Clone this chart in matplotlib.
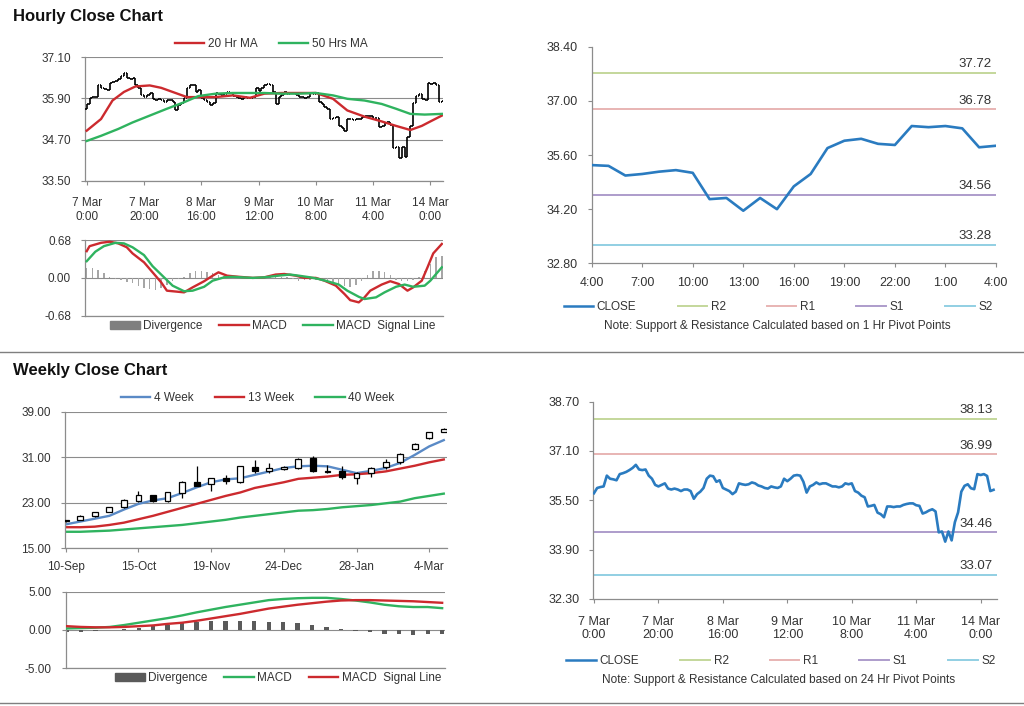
import numpy as np
import matplotlib.pyplot as plt
from matplotlib.lines import Line2D
from matplotlib.patches import Patch, Rectangle

plt.rcParams['font.family'] = ['Liberation Sans', 'DejaVu Sans']
plt.rcParams['font.size'] = 8

# ---------------- hourly data (7 Mar 0:00 -> 14 Mar 4:00) ----------------
hourly_close = [
    35.73, 35.90, 35.93, 35.95, 36.30, 36.20, 36.18, 36.15, 36.35, 36.38,
    36.42, 36.48, 36.55, 36.65, 36.50, 36.48, 36.50, 36.30, 36.20, 36.00,
    35.95, 36.00, 36.05, 35.88, 35.85, 35.88, 35.85, 35.80, 35.85, 35.85,
    35.80, 35.55, 35.70, 35.78, 35.90, 36.20, 36.30, 36.28, 36.10, 36.15,
    35.90, 35.85, 35.80, 35.70, 35.78, 36.05, 36.02, 36.00, 36.02, 36.08,
    36.05, 35.98, 35.95, 35.90, 35.88, 35.95, 35.92, 35.90, 35.95, 36.20,
    36.12, 36.20, 36.30, 36.32, 36.30, 36.10, 35.75, 35.95, 36.00, 36.08,
    36.02, 36.05, 36.05, 36.00, 35.95, 35.95, 35.92, 35.95, 36.05, 36.02,
    36.05, 35.80, 35.75, 35.65, 35.60, 35.30, 35.32, 35.35, 35.10, 35.05,
    34.95, 35.30, 35.30, 35.28, 35.30, 35.30, 35.35, 35.38, 35.40, 35.40,
    35.34, 35.32, 35.07, 35.11, 35.17, 35.21, 35.14, 34.46, 34.49, 34.16,
    34.49, 34.20, 34.79, 35.11, 35.78, 35.97, 36.02, 35.89, 35.86, 36.35,
    36.32, 36.35, 36.29, 35.80, 35.84]
first_open = 35.60
hourly_ticks = [0, 20, 40, 60, 80, 100, 120]
hourly_tick_labels = ['7 Mar\n0:00', '7 Mar\n20:00', '8 Mar\n16:00', '9 Mar\n12:00',
                      '10 Mar\n8:00', '11 Mar\n4:00', '14 Mar\n0:00']

ma20_hours = [0, 5, 9, 13, 17, 22, 26, 30, 35, 39, 45, 51, 57, 62, 68, 74, 80, 86,
              91, 97, 103, 108, 113, 117, 120, 124]
ma20 = [34.96, 35.30, 35.84, 36.09, 36.25, 36.28, 36.21, 36.09, 35.94, 35.94, 35.94,
        35.99, 35.92, 36.04, 36.06, 36.06, 36.06, 35.89, 35.55, 35.37, 35.23, 35.10,
        34.98, 35.10, 35.23, 35.40]
ma50_hours = [0, 5, 11, 16, 22, 28, 34, 39, 45, 51, 57, 62, 68, 74, 80, 86, 91, 97,
              103, 108, 113, 118, 124]
ma50 = [34.66, 34.81, 35.01, 35.20, 35.40, 35.60, 35.79, 35.97, 36.04, 36.06, 36.06,
        36.06, 36.04, 36.04, 36.06, 35.99, 35.89, 35.84, 35.74, 35.60, 35.45, 35.43, 35.45]

macd_hours = [0, 1, 5, 8, 11, 14, 16, 20, 23, 26, 28, 30, 34, 37, 41, 44, 46, 49, 53,
              58, 62, 66, 69, 73, 76, 80, 83, 87, 90, 92, 95, 97, 99, 103, 106, 109,
              112, 114, 117, 119, 121, 124]
macd_h = [0.48, 0.57, 0.63, 0.65, 0.62, 0.55, 0.44, 0.28, 0.10, -0.08, -0.23, -0.24,
          -0.26, -0.17, -0.06, 0.04, 0.10, 0.04, 0.02, 0.0, 0.01, 0.06, 0.07, 0.04, 0.0,
          0.0, -0.05, -0.14, -0.29, -0.40, -0.44, -0.35, -0.23, -0.12, -0.06, -0.11,
          -0.23, -0.17, -0.05, 0.19, 0.44, 0.61]
signal_hours = [0, 3, 6, 10, 13, 16, 20, 23, 27, 30, 34, 37, 41, 44, 48, 51, 54, 58,
                62, 67, 71, 74, 78, 81, 84, 88, 91, 95, 97, 101, 104, 108, 111, 114,
                118, 120, 124]
signal_h = [0.30, 0.47, 0.57, 0.63, 0.62, 0.55, 0.41, 0.21, 0.01, -0.14, -0.24, -0.23,
            -0.16, -0.05, 0.01, 0.02, 0.01, 0.0, 0.01, 0.04, 0.06, 0.04, 0.01, -0.02,
            -0.06, -0.12, -0.23, -0.34, -0.38, -0.35, -0.26, -0.16, -0.12, -0.16, -0.14,
            -0.05, 0.19]
div_h = [0.18, 0.18, 0.15, 0.08, 0.02, -0.02, -0.04, -0.07, -0.10, -0.14, -0.18, -0.20,
         -0.21, -0.18, -0.12, -0.05, -0.02, 0.02, 0.08, 0.12, 0.12, 0.11, 0.09, 0.06,
         0.03, 0.02, 0.01, 0.01, 0.0, -0.01, 0.0, 0.01, 0.02, 0.03, 0.02, 0.01, -0.02,
         -0.05, -0.03, -0.03, -0.04, -0.05, -0.07, -0.10, -0.13, -0.15, -0.17, -0.12,
         -0.05, 0.05, 0.12, 0.13, 0.11, 0.06, -0.03, -0.06, -0.06, -0.04, 0.02, 0.12,
         0.25, 0.38, 0.40]

# pivot levels
pivot_1h = {'R2': 37.72, 'R1': 36.78, 'S1': 34.56, 'S2': 33.28}
pivot_24h = {'R2': 38.13, 'R1': 36.99, 'S1': 34.46, 'S2': 33.07}
last24_labels = ['4:00', '7:00', '10:00', '13:00', '16:00', '19:00', '22:00', '1:00', '4:00']

# ---------------- weekly data ----------------
week_labels = ['10-Sep', '15-Oct', '19-Nov', '24-Dec', '28-Jan', '4-Mar']
wk_open = [19.9, 20.0, 20.6, 21.4, 22.2, 23.3, 24.3, 23.3, 24.7, 26.7, 26.3, 27.3, 26.6,
           29.3, 28.5, 29.0, 29.1, 30.9, 28.6, 28.5, 27.4, 28.2, 29.2, 30.1, 32.4, 34.3, 35.5]
wk_close = [19.8, 20.7, 21.3, 22.2, 23.4, 24.3, 23.3, 24.8, 26.7, 26.0, 27.3, 26.8, 29.4,
            28.5, 29.1, 29.2, 30.7, 28.6, 28.4, 27.5, 28.2, 29.1, 30.2, 31.5, 33.4, 35.4, 36.0]
wk_high = [20.0, 20.8, 21.4, 22.3, 23.6, 25.1, 24.4, 24.9, 26.8, 29.5, 27.4, 27.8, 29.5,
           30.5, 30.0, 29.5, 30.9, 31.2, 29.6, 29.4, 28.4, 29.3, 30.6, 31.7, 33.5, 35.5, 36.1]
wk_low = [19.7, 19.9, 20.5, 21.3, 22.1, 23.1, 23.1, 23.1, 23.8, 25.9, 25.0, 26.3, 26.5,
          28.2, 28.3, 28.8, 28.9, 28.4, 28.3, 27.2, 26.3, 27.6, 29.0, 29.8, 32.3, 34.2, 35.4]
wk_ma4 = [19.2, 19.7, 20.2, 20.7, 21.8, 22.8, 23.4, 23.8, 24.7, 25.7, 26.6, 27.1, 27.3,
          27.9, 28.5, 29.1, 29.4, 29.5, 29.4, 28.8, 28.2, 28.6, 29.1, 30.0, 31.4, 32.9, 34.0]
wk_ma13 = [18.7, 18.7, 18.8, 19.1, 19.5, 20.1, 20.7, 21.4, 22.1, 22.8, 23.5, 24.2, 24.8,
           25.6, 26.1, 26.6, 27.2, 27.4, 27.6, 27.9, 28.0, 28.2, 28.5, 29.0, 29.5, 30.1, 30.6]
wk_ma40 = [17.9, 17.9, 18.0, 18.1, 18.3, 18.5, 18.7, 18.9, 19.1, 19.4, 19.7, 20.0, 20.4,
           20.7, 21.0, 21.3, 21.6, 21.7, 21.9, 22.2, 22.4, 22.6, 22.9, 23.2, 23.8, 24.2, 24.6]
wk_macd = [0.2, 0.25, 0.3, 0.4, 0.65, 0.95, 1.25, 1.55, 1.9, 2.3, 2.65, 3.0, 3.3, 3.6,
           3.9, 4.05, 4.15, 4.2, 4.2, 4.05, 3.85, 3.6, 3.3, 3.1, 3.0, 3.0, 2.85]
wk_signal = [0.5, 0.4, 0.35, 0.35, 0.4, 0.5, 0.6, 0.8, 0.95, 1.2, 1.5, 1.8, 2.1, 2.45,
             2.8, 3.05, 3.3, 3.5, 3.7, 3.85, 3.9, 3.9, 3.85, 3.8, 3.75, 3.65, 3.55]
wk_div = [-0.2, -0.2, -0.15, 0.05, 0.1, 0.3, 0.5, 0.7, 0.9, 1.1, 1.2, 1.2, 1.15, 1.15,
          1.1, 1.0, 0.85, 0.6, 0.4, 0.15, -0.1, -0.3, -0.5, -0.55, -0.7, -0.55, -0.5]

# ---------------- styling ----------------
TXT = '#333333'
AXC = '#8c8c8c'
RED = '#cc2a2e'
GREEN = '#2fb35f'
BLUE = '#5a8ac6'
CLOSE_C = '#2a7bc0'
LEVEL_C = {'R2': '#c4d79b', 'R1': '#e8b4b3', 'S1': '#ad9ccb', 'S2': '#92cfe3'}


def style(ax, grid=True, size=8.5):
    for s in ['top', 'right']:
        ax.spines[s].set_visible(False)
    for s in ['left', 'bottom']:
        ax.spines[s].set_color(AXC)
        ax.spines[s].set_linewidth(0.9)
    ax.tick_params(colors=AXC, labelcolor=TXT, labelsize=size, length=3, width=0.8)
    ax.tick_params(axis='y', pad=7)
    if grid:
        ax.yaxis.grid(True, color=AXC, lw=0.8)
        ax.set_axisbelow(True)


def legend(ax, handles, x, y, cs, fs=8.5):
    lg = ax.legend(handles=handles, loc='center', bbox_to_anchor=(x, y), ncol=len(handles),
                   frameon=False, fontsize=fs, handlelength=2.5, handletextpad=0.3,
                   columnspacing=cs, borderaxespad=0)
    for t in lg.get_texts():
        t.set_color(TXT)
    return lg


fig = plt.figure(figsize=(10.24, 7.06), dpi=100)
fig.text(13 / 1024, 1 - 16 / 706, 'Hourly Close Chart', fontsize=12, fontweight='bold',
         va='center', ha='left', color='#111111')
fig.text(13 / 1024, 1 - 370 / 706, 'Weekly Close Chart', fontsize=12, fontweight='bold',
         va='center', ha='left', color='#111111')
fig.add_artist(Line2D([0, 1], [1 - 352 / 706] * 2, color='#7f7f7f', lw=1))
fig.add_artist(Line2D([0, 1], [3 / 706] * 2, color='#7f7f7f', lw=1))

hours = np.arange(len(hourly_close))

# ---- hourly price bars ----
ax1 = fig.add_axes([0.083, 0.744, 0.3496, 0.1748])
style(ax1)
opens = [first_open] + hourly_close[:-1]
lo = np.minimum(opens, hourly_close)
hi = np.maximum(opens, hourly_close)
ax1.vlines(hours, lo, hi, color='black', lw=1.2, zorder=3)
ax1.hlines(opens, hours - 0.45, hours, color='black', lw=1.2, zorder=3)
ax1.hlines(hourly_close, hours, hours + 0.45, color='black', lw=1.2, zorder=3)
ax1.plot(ma20_hours, ma20, color=RED, lw=1.7, zorder=4)
ax1.plot(ma50_hours, ma50, color=GREEN, lw=1.7, zorder=4)
ax1.set_ylim(33.5, 37.1)
ax1.set_yticks([33.5, 34.7, 35.9, 37.1])
ax1.yaxis.set_major_formatter(plt.FormatStrFormatter('%.2f'))
ax1.set_xlim(-0.6, 124.4)
ax1.set_xticks(hourly_ticks)
ax1.set_xticklabels(hourly_tick_labels)
ax1.tick_params(axis='x', pad=9)
legend(ax1, [Line2D([], [], color=RED, lw=1.7, label='20 Hr MA'),
             Line2D([], [], color=GREEN, lw=1.7, label='50 Hrs MA')], 0.52, 1.108, 1.8)

# ---- hourly MACD ----
ax2 = fig.add_axes([0.083, 0.5528, 0.3496, 0.1072])
style(ax2)
ax2.bar(np.arange(0, 125, 2), div_h, width=0.5, color='#a6a6a6', zorder=2)
ax2.plot(macd_hours, macd_h, color=RED, lw=1.7, zorder=3)
ax2.plot(signal_hours, signal_h, color=GREEN, lw=1.7, zorder=3)
ax2.set_ylim(-0.68, 0.68)
ax2.set_yticks([-0.68, 0, 0.68])
ax2.yaxis.set_major_formatter(plt.FormatStrFormatter('%.2f'))
ax2.set_xlim(-0.6, 124.4)
ax2.set_xticks([])
legend(ax2, [Patch(color='#7f7f7f', label='Divergence'),
             Line2D([], [], color=RED, lw=1.7, label='MACD'),
             Line2D([], [], color=GREEN, lw=1.7, label='MACD  Signal Line')],
       0.525, -0.136, 1.4)


def pivot_panel(ax, x, y, levels, ylim, yticks, xlim):
    style(ax, grid=False, size=9)
    lines = [Line2D([], [], color=CLOSE_C, lw=1.8, label='CLOSE')]
    for name in ['R2', 'R1', 'S1', 'S2']:
        ax.axhline(levels[name], color=LEVEL_C[name], lw=1.4, zorder=2)
        ax.annotate('%.2f' % levels[name], (xlim[1], levels[name]), xytext=(-3, 2),
                    textcoords='offset points', ha='right', va='bottom', fontsize=9.5,
                    color=TXT)
        lines.append(Line2D([], [], color=LEVEL_C[name], lw=1.4, label=name))
    ax.plot(x, y, color=CLOSE_C, lw=1.9, zorder=3)
    ax.set_ylim(*ylim)
    ax.set_yticks(yticks)
    ax.yaxis.set_major_formatter(plt.FormatStrFormatter('%.2f'))
    ax.set_xlim(*xlim)
    return lines


# ---- last 24 hours with 1 hr pivots ----
ax3 = fig.add_axes([0.5778, 0.627, 0.3948, 0.3068])
last24 = hourly_close[-25:]
h3 = pivot_panel(ax3, np.arange(25), last24, pivot_1h, (32.8, 38.4),
                 [32.8, 34.2, 35.6, 37.0, 38.4], (0, 24))
ax3.set_xticks(np.arange(0, 25, 3))
ax3.set_xticklabels(last24_labels)
ax3.tick_params(axis='x', pad=7)
legend(ax3, h3, 0.461, -0.203, 3.5)
ax3.text(0.458, -0.289, 'Note: Support & Resistance Calculated based on 1 Hr Pivot Points',
         transform=ax3.transAxes, ha='center', va='center', fontsize=8.5, color=TXT)

# ---- hourly close with 24 hr pivots ----
ax6 = fig.add_axes([0.5794, 0.1516, 0.394, 0.2795])
h6 = pivot_panel(ax6, hours, hourly_close, pivot_24h, (32.3, 38.7),
                 [32.3, 33.9, 35.5, 37.1, 38.7], (-0.2, 125))
ax6.set_xticks(hourly_ticks)
ax6.set_xticklabels(hourly_tick_labels)
ax6.tick_params(axis='x', pad=9)
legend(ax6, h6, 0.465, -0.314, 3.5)
ax6.text(0.459, -0.41, 'Note: Support & Resistance Calculated based on 24 Hr Pivot Points',
         transform=ax6.transAxes, ha='center', va='center', fontsize=8.5, color=TXT)

# ---- weekly candles ----
weeks = np.arange(len(wk_close))
ax4 = fig.add_axes([0.0635, 0.2234, 0.3727, 0.1935])
style(ax4)
ax4.plot(weeks, wk_ma4, color=BLUE, lw=1.7, zorder=2)
ax4.plot(weeks, wk_ma13, color=RED, lw=1.7, zorder=2)
ax4.plot(weeks, wk_ma40, color=GREEN, lw=1.7, zorder=2)
ax4.vlines(weeks, wk_low, wk_high, color='black', lw=0.9, zorder=3)
for i in weeks:
    o, c = wk_open[i], wk_close[i]
    ax4.add_patch(Rectangle((i - 0.2, min(o, c)), 0.4, max(abs(c - o), 0.15),
                            facecolor='white' if c > o else 'black', edgecolor='black',
                            lw=0.9, zorder=4))
ax4.set_ylim(15, 39)
ax4.set_yticks([15, 23, 31, 39])
ax4.yaxis.set_major_formatter(plt.FormatStrFormatter('%.2f'))
ax4.set_xlim(-0.05, 26.2)
ax4.set_xticks(np.arange(0, 26, 5))
ax4.set_xticklabels(week_labels)
ax4.tick_params(axis='x', pad=6)
legend(ax4, [Line2D([], [], color=BLUE, lw=1.7, label='4 Week'),
             Line2D([], [], color=RED, lw=1.7, label='13 Week'),
             Line2D([], [], color=GREEN, lw=1.7, label='40 Week')], 0.505, 1.10, 1.8)

# ---- weekly MACD ----
ax5 = fig.add_axes([0.0642, 0.0534, 0.3704, 0.1085])
style(ax5)
ax5.bar(weeks, wk_div, width=0.3, color='#5a5a5a', zorder=2)
ax5.plot(weeks, wk_macd, color=GREEN, lw=1.7, zorder=3)
ax5.plot(weeks, wk_signal, color=RED, lw=1.7, zorder=3)
ax5.set_ylim(-5, 5)
ax5.set_yticks([-5, 0, 5])
ax5.yaxis.set_major_formatter(plt.FormatStrFormatter('%.2f'))
ax5.set_xlim(-0.05, 26.2)
ax5.set_xticks([])
legend(ax5, [Patch(color='#5a5a5a', label='Divergence'),
             Line2D([], [], color=GREEN, lw=1.7, label='MACD'),
             Line2D([], [], color=RED, lw=1.7, label='MACD  Signal Line')],
       0.56, -0.127, 1.4)

fig.savefig('out.png', dpi=100)
